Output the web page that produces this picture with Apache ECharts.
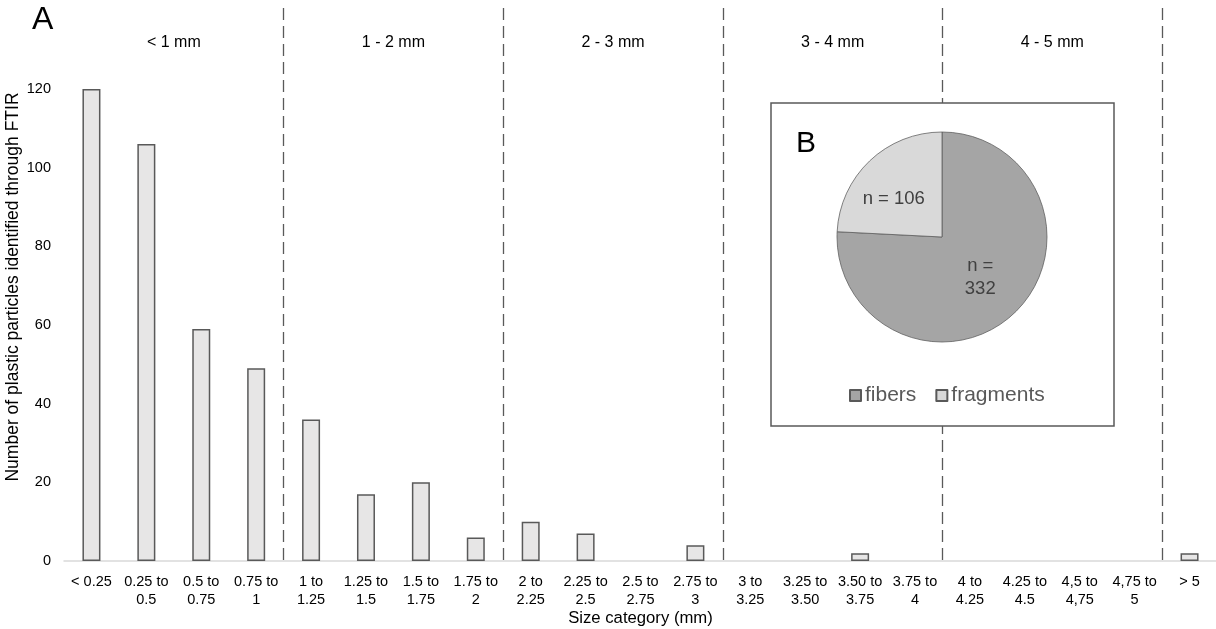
<!DOCTYPE html>
<html><head><meta charset="utf-8">
<script src="https://cdn.jsdelivr.net/npm/echarts@6/dist/echarts.min.js"></script>
<style>html,body{margin:0;padding:0;background:#fff}#c{width:1216px;height:629px}</style>
</head><body><div id="c"></div>
<script>
var categories = ["< 0.25","0.25 to\n0.5","0.5 to\n0.75","0.75 to\n1","1 to\n1.25","1.25 to\n1.5","1.5 to\n1.75","1.75 to\n2","2 to\n2.25","2.25 to\n2.5","2.5 to\n2.75","2.75 to\n3","3 to\n3.25","3.25 to\n3.50","3.50 to\n3.75","3.75 to\n4","4 to\n4.25","4.25 to\n4.5","4,5 to\n4,75","4,75 to\n5","> 5"];
var counts = [120,106,59,49,36,17,20,6,10,7,0,4,0,0,2,0,0,0,0,0,2];
var sectionLabels = {2:"< 1 mm",6:"1 - 2 mm",10:"2 - 3 mm",14:"3 - 4 mm",18:"4 - 5 mm"};
var pieNames = ["fibers","fragments"];
var pieValues = [332,106];
var pieLabels = ["n =\n332","n = 106"];
var yTicks = {min:0,max:120,interval:20};

var F = "Liberation Sans, Arial, sans-serif";
var chart = echarts.init(document.getElementById('c'));
chart.setOption({
  animation:false,
  backgroundColor:'#fff',
  textStyle:{fontFamily:F},
  title:[
    {text:'A',left:27,top:-1,textStyle:{fontFamily:F,fontSize:32,fontWeight:'normal',color:'#000'}},
    {text:'B',left:791,top:124,textStyle:{fontFamily:F,fontSize:30,fontWeight:'normal',color:'#000'}}
  ],
  grid:[
    {left:64,width:1153,top:89,bottom:68,outerBoundsMode:'none'},
    {left:64,width:1153,top:8,bottom:66,outerBoundsMode:'none'},
    {left:64,width:1153,top:53,height:1,outerBoundsMode:'none'}
  ],
  xAxis:[
    {type:'category',gridIndex:0,data:categories,
     axisLine:{lineStyle:{color:'#d9d9d9',width:1.5}},axisTick:{show:false},
     axisLabel:{interval:0,fontSize:14.5,lineHeight:18,color:'#000',margin:12,fontFamily:F},
     name:'Size category (mm)',nameLocation:'middle',nameGap:49,nameMoveOverlap:false,
     nameTextStyle:{fontSize:16.7,color:'#000',fontFamily:F}},
    {type:'value',gridIndex:1,min:0,max:categories.length,interval:4,
     axisLine:{show:false},axisTick:{show:false},axisLabel:{show:false},
     splitLine:{show:true,showMinLine:false,showMaxLine:false,lineStyle:{color:'#595959',width:1.3,type:[12,6]}}},
    {type:'value',gridIndex:2,position:'top',min:0,max:categories.length,interval:2,
     axisLine:{show:false},axisTick:{show:false},splitLine:{show:false},
     axisLabel:{fontSize:16,color:'#000',margin:2,fontFamily:F,showMaxLabel:false,
       formatter:function(v){return sectionLabels[v]||'';}}}
  ],
  yAxis:[
    {type:'value',gridIndex:0,min:yTicks.min,max:yTicks.max,interval:yTicks.interval,
     axisLine:{show:false},axisTick:{show:false},splitLine:{show:false},
     axisLabel:{fontSize:14.5,color:'#000',margin:13,fontFamily:F},
     name:'Number of plastic particles identified through FTIR',nameLocation:'middle',nameGap:42,nameMoveOverlap:false,
     nameTextStyle:{fontSize:17.5,color:'#000',fontFamily:F,padding:[0,0,0,76]}},
    {type:'value',gridIndex:1,show:false,min:0,max:1},
    {type:'value',gridIndex:2,show:false,min:0,max:1}
  ],
  legend:{data:pieNames,left:844,top:380,itemWidth:11,itemHeight:11,itemGap:19,icon:'rect',
    textStyle:{fontSize:21,color:'#595959',fontFamily:F,padding:[0,0,0,-1]}},
  graphic:[{type:'rect',z:1,shape:{x:771,y:103,width:343,height:323},
    style:{fill:'#fff',stroke:'#595959',lineWidth:1.5}}],
  series:[
    {type:'bar',xAxisIndex:0,yAxisIndex:0,
     data:counts.map(function(v){return v===0?null:v;}),barWidth:18,
     itemStyle:{color:'#e7e6e6',borderColor:'#595959',borderWidth:1.5}},
    {type:'pie',center:[942,237],radius:105,startAngle:90,clockwise:true,z:3,
     data:pieNames.map(function(n,i){
       var d={name:n,value:pieValues[i]};
       if(i===1){d.label={offset:[-10,2]};}
       return d;}),
     color:['#a5a5a5','#d9d9d9'],
     itemStyle:{borderColor:'#595959',borderWidth:0.75},
     label:{position:'inside',fontSize:18.5,lineHeight:23,color:'#404040',fontFamily:F,
       formatter:function(p){return pieLabels[p.dataIndex];}},
     labelLine:{show:false}}
  ]
});
</script></body></html>
